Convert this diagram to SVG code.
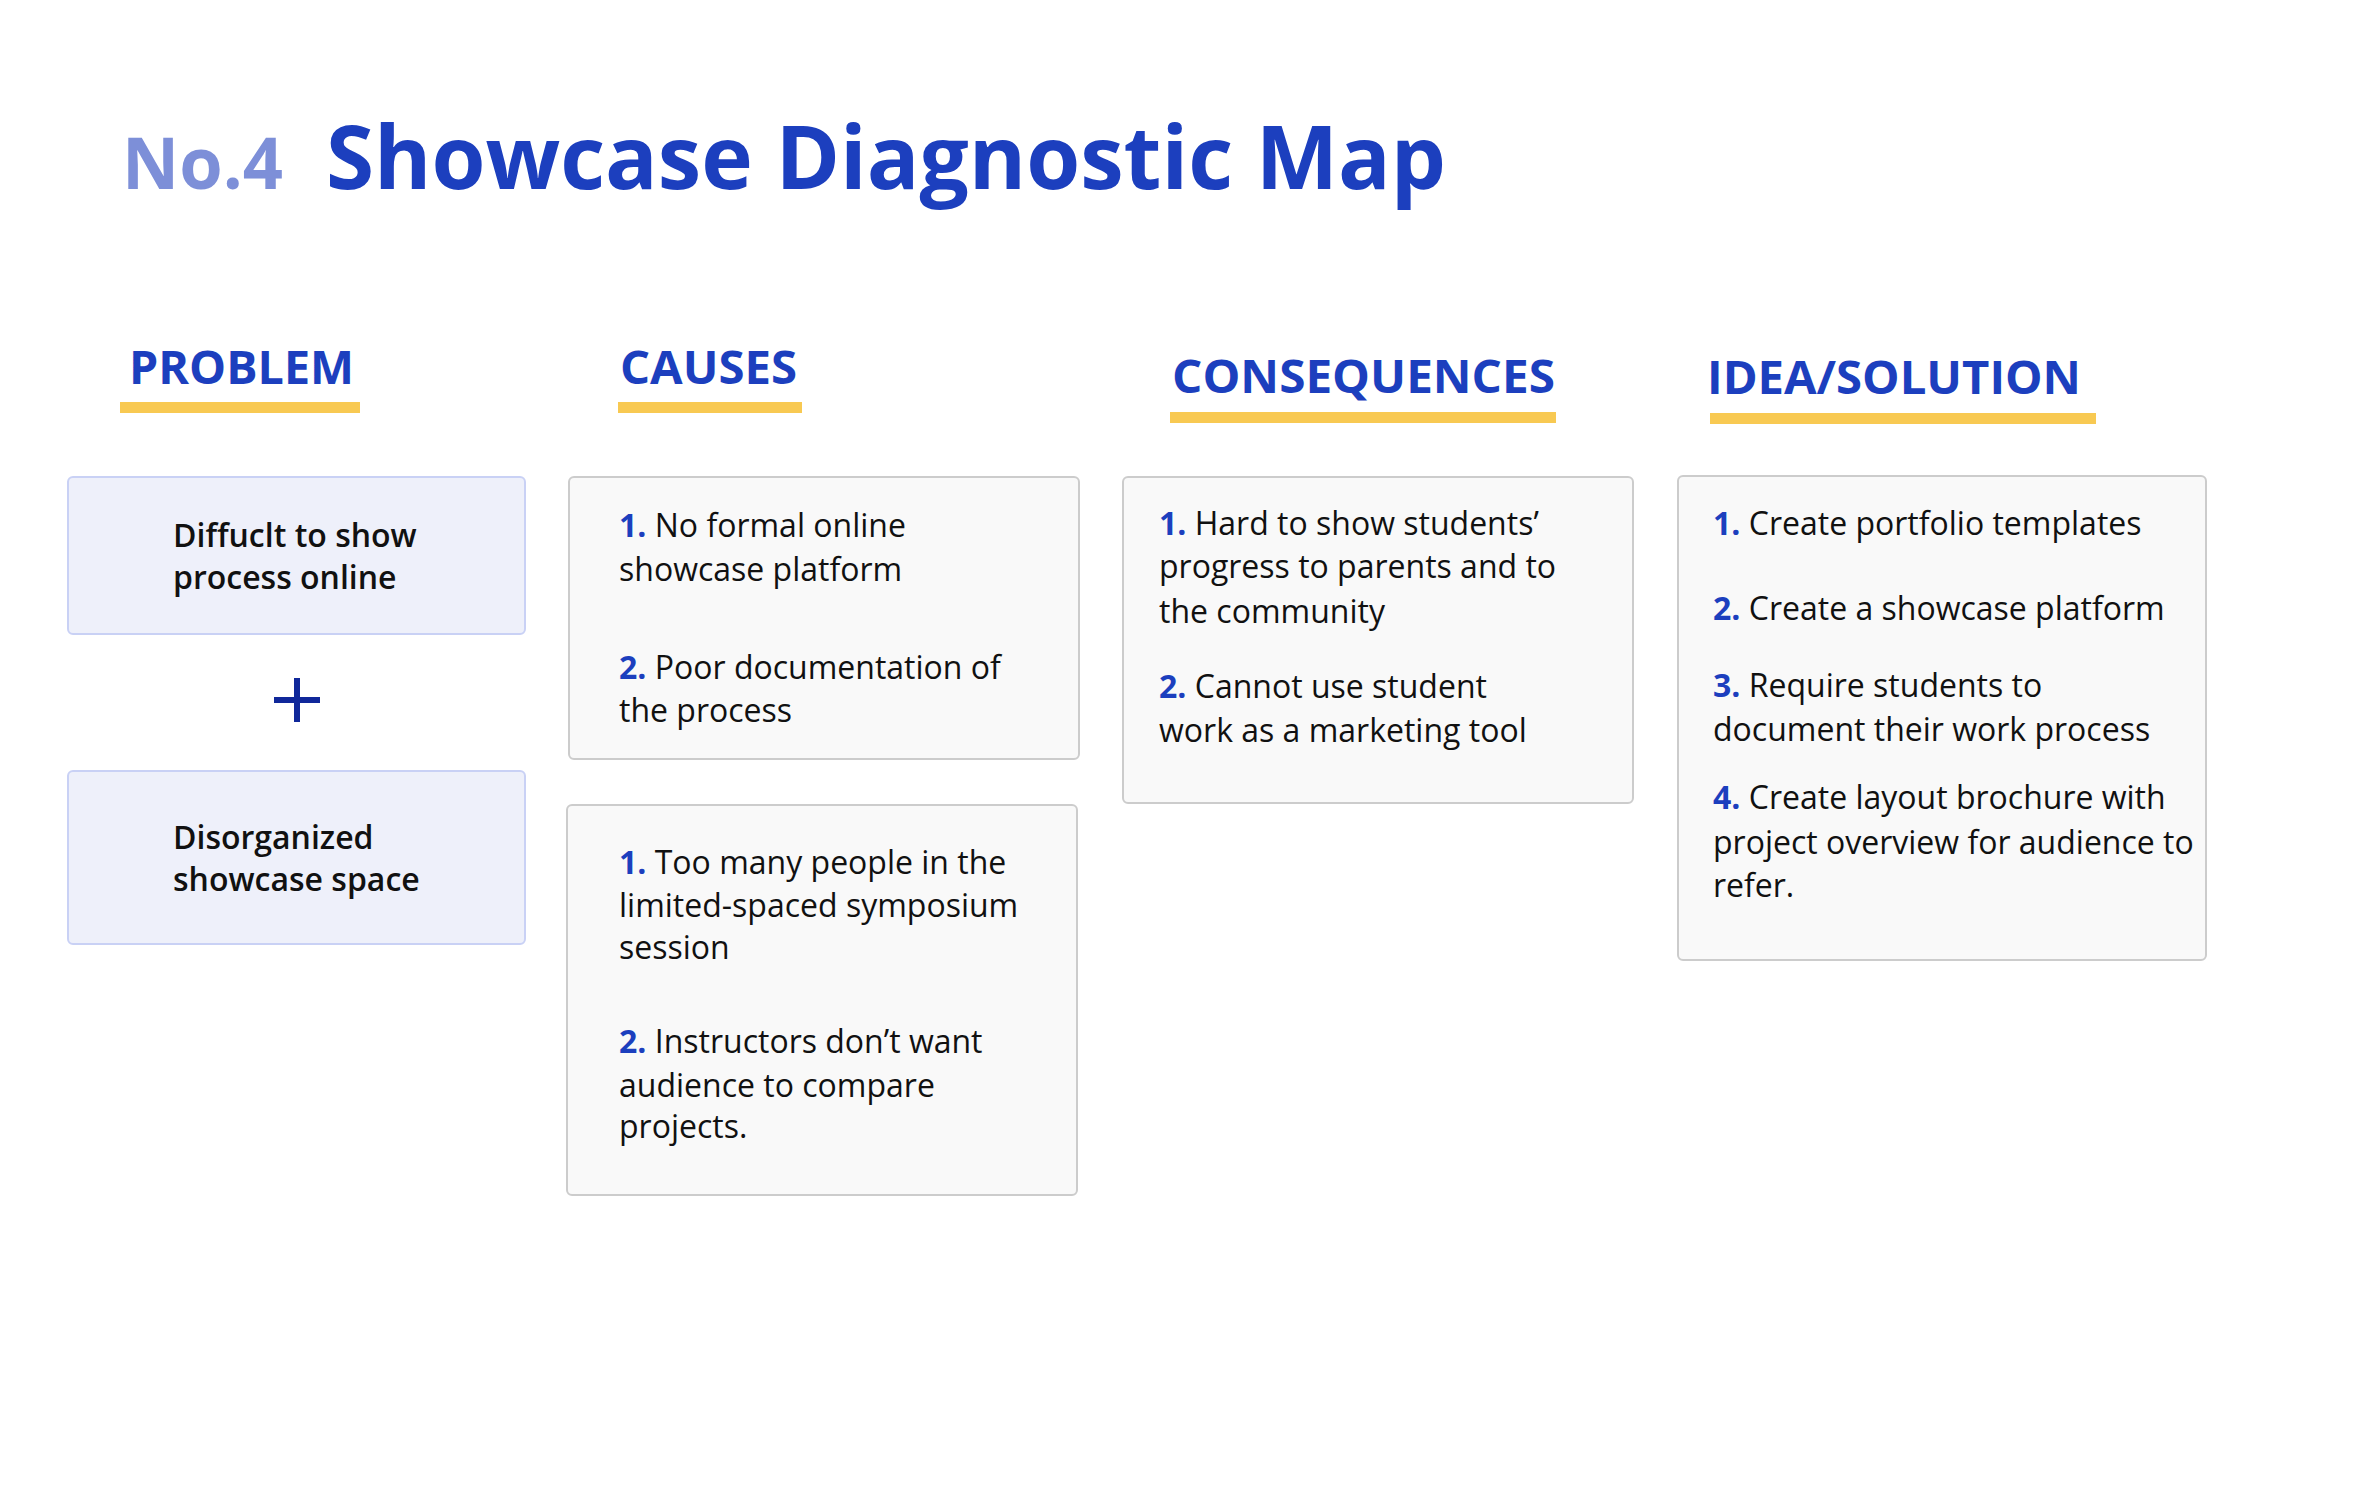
<svg xmlns="http://www.w3.org/2000/svg" width="2364" height="1500" viewBox="0 0 2364 1500">
<style>
.bg{fill:#FFFFFF}
.h{font-family:'Open Sans','Liberation Sans',sans-serif;font-weight:700;font-size:47px;fill:#1C3FBE}
.t{font-family:'Open Sans','Liberation Sans',sans-serif;font-size:32px;fill:#111111}
.s{font-weight:600}
.n{font-weight:700;fill:#1C3FBE}
.ul{fill:#F8C952}
.pb{fill:#EEF0FA;stroke:#C9D1F5;stroke-width:2}
.gb{fill:#F9F9F9;stroke:#CCCCCC;stroke-width:2}
.plus{stroke:#10289A;stroke-width:6;fill:none}
</style>
<rect class="bg" x="0" y="0" width="2364" height="1500"/>
<g id="title">
  <text x="122" y="189" font-family="'Open Sans','Liberation Sans',sans-serif" font-weight="700" font-size="71" fill="#7D8FD8" textLength="161" lengthAdjust="spacingAndGlyphs">No.4</text>
  <text x="326" y="189" font-family="'Open Sans','Liberation Sans',sans-serif" font-weight="700" font-size="88" fill="#1C3FBE" textLength="1120" lengthAdjust="spacingAndGlyphs">Showcase Diagnostic Map</text>
</g>
<g id="header-problem">
  <text class="h" x="129" y="384" textLength="225" lengthAdjust="spacingAndGlyphs">PROBLEM</text>
  <rect class="ul" x="120" y="402" width="240" height="11"/>
</g>
<g id="header-causes">
  <text class="h" x="620" y="384" textLength="177" lengthAdjust="spacingAndGlyphs">CAUSES</text>
  <rect class="ul" x="618" y="402" width="184" height="11"/>
</g>
<g id="header-consequences">
  <text class="h" x="1172" y="393" textLength="383" lengthAdjust="spacingAndGlyphs">CONSEQUENCES</text>
  <rect class="ul" x="1170" y="412" width="386" height="11"/>
</g>
<g id="header-solution">
  <text class="h" x="1707" y="394" textLength="374" lengthAdjust="spacingAndGlyphs">IDEA/SOLUTION</text>
  <rect class="ul" x="1710" y="413" width="386" height="11"/>
</g>
<g id="problem-1">
  <rect class="pb" x="68" y="477" width="457" height="157" rx="5"/>
  <text class="t s" x="173" y="547">Diffuclt to show</text>
  <text class="t s" x="173" y="589">process online</text>
</g>
<g id="plus">
  <line class="plus" x1="274" y1="700" x2="320" y2="700"/>
  <line class="plus" x1="297" y1="678" x2="297" y2="722"/>
</g>
<g id="problem-2">
  <rect class="pb" x="68" y="771" width="457" height="173" rx="5"/>
  <text class="t s" x="173" y="849">Disorganized</text>
  <text class="t s" x="173" y="891">showcase space</text>
</g>
<g id="causes-1">
  <rect class="gb" x="569" y="477" width="510" height="282" rx="5"/>
  <text class="t" x="619" y="537"><tspan class="n">1.</tspan> No formal online</text>
  <text class="t" x="619" y="581">showcase platform</text>
  <text class="t" x="619" y="679"><tspan class="n">2.</tspan> Poor documentation of</text>
  <text class="t" x="619" y="722">the process</text>
</g>
<g id="causes-2">
  <rect class="gb" x="567" y="805" width="510" height="390" rx="5"/>
  <text class="t" x="619" y="874"><tspan class="n">1.</tspan> Too many people in the</text>
  <text class="t" x="619" y="917">limited-spaced symposium</text>
  <text class="t" x="619" y="959">session</text>
  <text class="t" x="619" y="1053"><tspan class="n">2.</tspan> Instructors don’t want</text>
  <text class="t" x="619" y="1097">audience to compare</text>
  <text class="t" x="619" y="1138">projects.</text>
</g>
<g id="consequences">
  <rect class="gb" x="1123" y="477" width="510" height="326" rx="5"/>
  <text class="t" x="1159" y="535"><tspan class="n">1.</tspan> Hard to show students’</text>
  <text class="t" x="1159" y="578">progress to parents and to</text>
  <text class="t" x="1159" y="623">the community</text>
  <text class="t" x="1159" y="698"><tspan class="n">2.</tspan> Cannot use student</text>
  <text class="t" x="1159" y="742">work as a marketing tool</text>
</g>
<g id="solution">
  <rect class="gb" x="1678" y="476" width="528" height="484" rx="5"/>
  <text class="t" x="1713" y="535"><tspan class="n">1.</tspan> Create portfolio templates</text>
  <text class="t" x="1713" y="620"><tspan class="n">2.</tspan> Create a showcase platform</text>
  <text class="t" x="1713" y="697"><tspan class="n">3.</tspan> Require students to</text>
  <text class="t" x="1713" y="741">document their work process</text>
  <text class="t" x="1713" y="809"><tspan class="n">4.</tspan> Create layout brochure with</text>
  <text class="t" x="1713" y="854">project overview for audience to</text>
  <text class="t" x="1713" y="897">refer.</text>
</g>
<g id="connectors"></g>
</svg>
